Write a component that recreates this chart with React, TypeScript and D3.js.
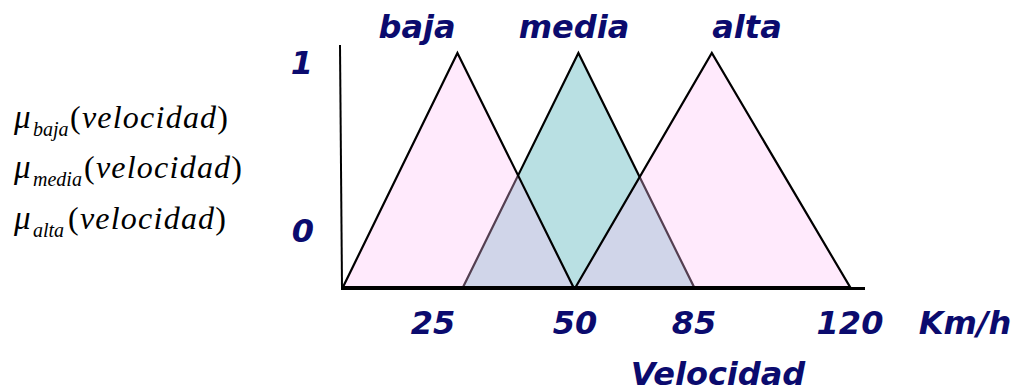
import React from "react";
import { scaleLinear, line } from "d3";

// fuzzy sets for "velocidad" (km/h): foot, peak, foot
const setNames = ["baja", "media", "alta"];
const bajaPts = [0, 29.3, 49.7];
const mediaPts = [30.3, 51, 85];
const altaPts = [50.2, 89, 120];
const grades = [0, 1, 0];

const xTicks = [25, 50, 85, 120];
const yTickLabels = ["1", "0"];
const unitLabel = "Km/h";
const axisTitle = "Velocidad";
const muVar = "velocidad";

const NAVY = "#0b0b6e";
const boldItalic = {
  fontFamily: "'DejaVu Sans', Verdana, sans-serif",
  fontWeight: 700,
  fontStyle: "italic" as const,
  fontSize: 32,
  fill: NAVY,
};
const SERIF = "Liberation Serif";

function App() {
  const x = scaleLinear()
    .domain([0, ...xTicks])
    .range([343, 433, 575, 694, 850]);
  const y = scaleLinear().domain([0, 1]).range([287, 53]);

  const tri = line<[number, number]>()
    .x((d) => x(d[0]))
    .y((d) => y(d[1]));
  const shape = (pts: number[]) =>
    tri(pts.map((p, i) => [p, grades[i]] as [number, number])) + "Z";

  // left formulas: mu_set(velocidad)
  const rowY = [128, 178, 229];
  const parenX = [70, 84, 68];
  const nameX = [417, 574, 747];

  return (
    <svg
      width={1018}
      height={392}
      style={{ position: "absolute", left: 0, top: 0, background: "#fff" }}
    >
      {/* media first, opaque; baja and alta see-through on top */}
      <path d={shape(mediaPts)} fill="#b9e0e3" stroke="#000" strokeWidth={2.2} />
      <path d={shape(bajaPts)} fill="rgb(255,191,246)" fillOpacity={0.33} stroke="#000" strokeWidth={2.2} />
      <path d={shape(altaPts)} fill="rgb(255,191,246)" fillOpacity={0.33} stroke="#000" strokeWidth={2.2} />

      {/* axes */}
      <line x1={340} y1={45} x2={342} y2={288} stroke="#000" strokeWidth={2} />
      <line x1={x(0) - 2} y1={288.5} x2={865} y2={288.5} stroke="#000" strokeWidth={3} />

      {setNames.map((s, i) => (
        <text key={s} x={nameX[i]} y={38} textAnchor="middle" style={boldItalic}>
          {s}
        </text>
      ))}

      <text x={302} y={74} textAnchor="middle" style={boldItalic}>{yTickLabels[0]}</text>
      <text x={303} y={242} textAnchor="middle" style={boldItalic}>{yTickLabels[1]}</text>

      {xTicks.map((t) => (
        <text key={t} x={x(t)} y={334} textAnchor="middle" style={boldItalic}>
          {t}
        </text>
      ))}
      <text x={965} y={334} textAnchor="middle" style={boldItalic}>{unitLabel}</text>
      <text x={718} y={385} textAnchor="middle" style={boldItalic}>{axisTitle}</text>

      {setNames.map((s, i) => (
        <g key={"mu" + s} fontFamily={SERIF} fill="#000">
          <text x={14} y={rowY[i]} fontSize={33} fontStyle="italic">μ</text>
          <text x={33} y={rowY[i] + 8} fontSize={20} fontStyle="italic">{s}</text>
          <text x={parenX[i]} y={rowY[i]} fontSize={32} textLength={158} lengthAdjust="spacing">
            <tspan>(</tspan>
            <tspan fontStyle="italic">{muVar}</tspan>
            <tspan>)</tspan>
          </text>
        </g>
      ))}
    </svg>
  );
}

export default App;
